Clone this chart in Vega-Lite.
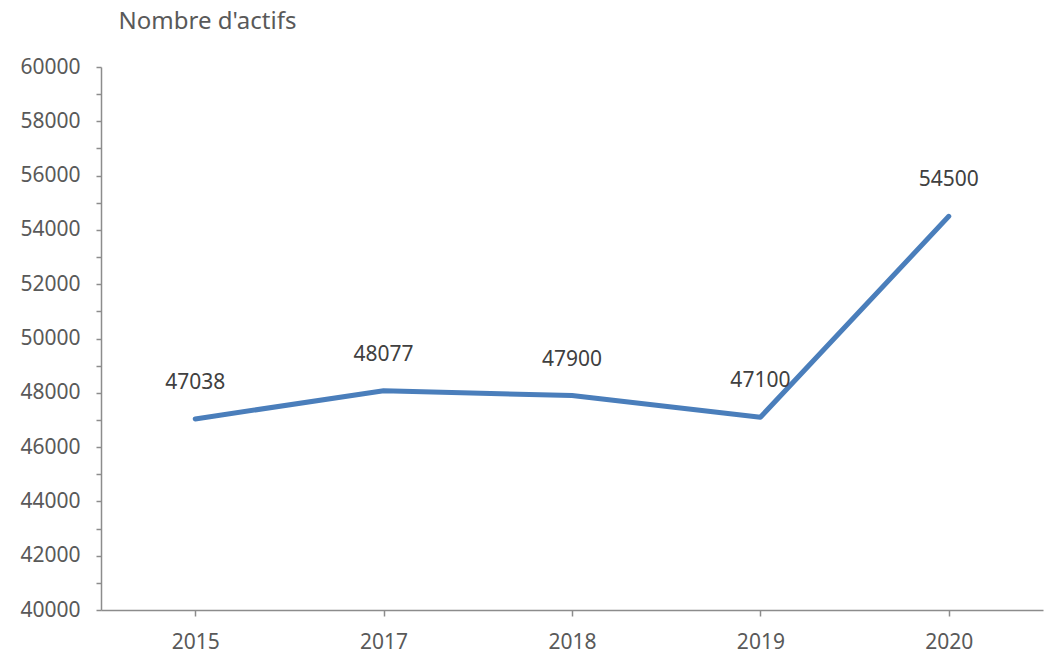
{
  "$schema": "https://vega.github.io/schema/vega-lite/v6.json",
  "autosize": {"type": "none"},
  "width": 942,
  "height": 543,
  "padding": {"left": 101, "top": 67, "right": 7, "bottom": 43},
  "background": "white",
  "data": {"values": [
    {"year": "2015", "actifs": 47038},
    {"year": "2017", "actifs": 48077},
    {"year": "2018", "actifs": 47900},
    {"year": "2019", "actifs": 47100},
    {"year": "2020", "actifs": 54500}
  ]},
  "config": {
    "view": {"stroke": null},
    "font": "Noto Sans"
  },
  "encoding": {
    "x": {
      "field": "year", "type": "ordinal",
      "scale": {"type": "point", "padding": 0.5},
      "axis": {
        "title": null, "labelAngle": 0, "labelFontSize": 21, "labelColor": "#595959",
        "labelFont": "Noto Sans", "domainColor": "#8c8c8c", "domainWidth": 1.5,
        "tickColor": "#8c8c8c", "tickWidth": 1.5, "tickSize": 6, "labelPadding": 15, "grid": false
      }
    },
    "y": {
      "field": "actifs", "type": "quantitative",
      "scale": {"domain": [40000, 60000], "nice": false, "zero": false},
      "axis": {
        "values": [40000, 41000, 42000, 43000, 44000, 45000, 46000, 47000, 48000, 49000, 50000, 51000, 52000, 53000, 54000, 55000, 56000, 57000, 58000, 59000, 60000],
        "labelExpr": "datum.value % 2000 == 0 ? datum.value : ''",
        "title": "Nombre d'actifs", "titleAngle": 0, "titleX": 17, "titleY": -46,
        "titleAlign": "left", "titleBaseline": "middle", "titleFontSize": 24,
        "titleFontWeight": "normal", "titleColor": "#595959", "titleFont": "Noto Sans",
        "labelFontSize": 21, "labelColor": "#595959", "labelFont": "Noto Sans",
        "domainColor": "#8c8c8c", "domainWidth": 1.5, "tickColor": "#8c8c8c", "tickWidth": 1.5,
        "tickSize": 5, "labelPadding": 16, "grid": false
      }
    }
  },
  "layer": [
    {
      "mark": {"type": "line", "color": "#4a7ebb", "strokeWidth": 5, "strokeCap": "round", "strokeJoin": "round"}
    },
    {
      "mark": {"type": "text", "dy": -36, "fontSize": 21, "color": "#404040", "font": "Noto Sans"},
      "encoding": {"text": {"field": "actifs", "type": "quantitative", "format": "d"}}
    }
  ]
}
